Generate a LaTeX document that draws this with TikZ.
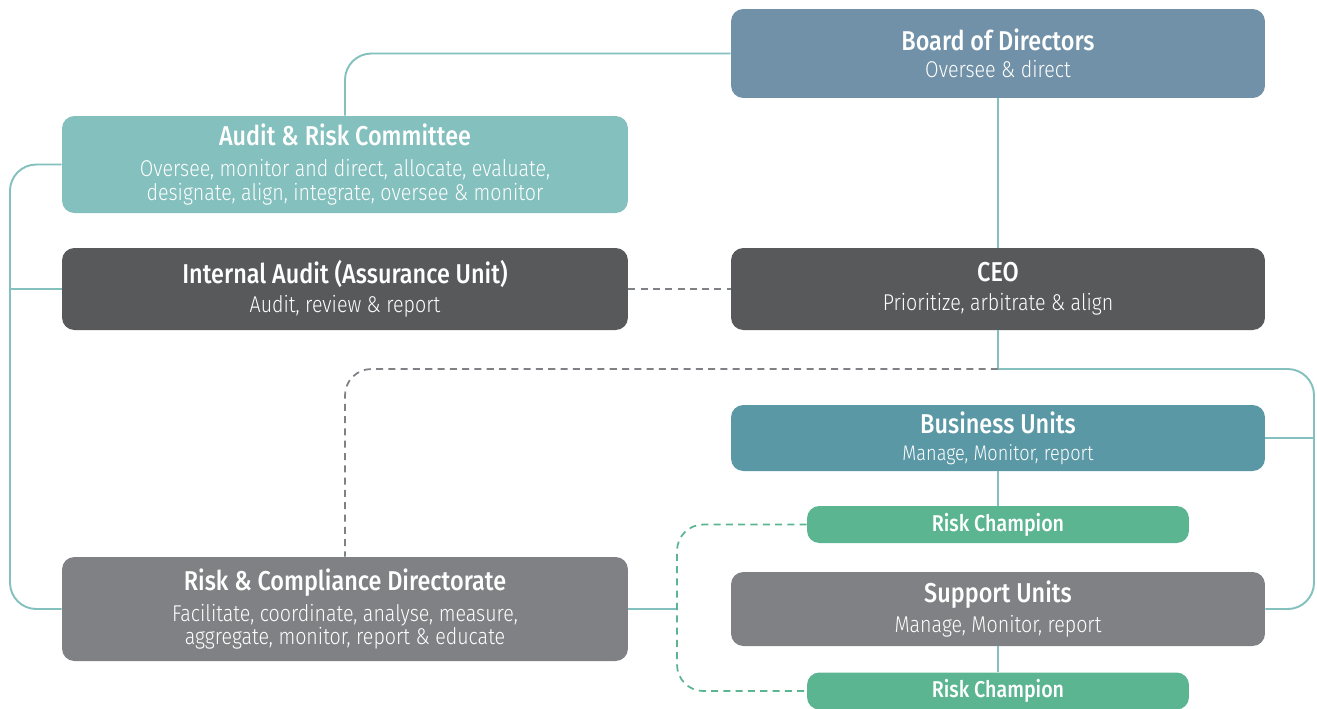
\documentclass[tikz,border=0pt]{standalone}
\usepackage{fontspec}
\setmainfont{Fira Sans Light}[BoldFont={Fira Sans Medium}, FakeStretch=0.86]
\definecolor{boardblue}{HTML}{7091A7}
\definecolor{lightteal}{HTML}{83C0BE}
\definecolor{darkgray}{HTML}{58595B}
\definecolor{unitteal}{HTML}{5A98A5}
\definecolor{champgreen}{HTML}{5BB591}
\definecolor{midgray}{HTML}{808184}
\newcommand{\boxhead}[1]{{\fontsize{15.5}{18}\selectfont\bfseries #1}}
\tikzset{
  box/.style={rounded corners=7pt, text=white, align=center, inner sep=0pt,
    font=\fontsize{13}{13.6}\selectfont},
  link/.style={draw=lightteal, line width=1.1pt},
  greylink/.style={draw=midgray, line width=1pt, dash pattern=on 4pt off 3pt},
  champlink/.style={draw=champgreen, line width=1pt, dash pattern=on 4pt off 3pt}
}
\begin{document}
\begin{tikzpicture}[x=0.02cm, y=-0.02cm]
  \useasboundingbox (0,0) rectangle (1317,708);
  \node[box, fill=boardblue, minimum width=10.68cm, minimum height=1.78cm] (board) at (998,53.5)
    {\boxhead{Board of Directors}\\[2pt]Oversee \& direct};
  \node[box, fill=lightteal, minimum width=11.32cm, minimum height=1.94cm] (arc) at (345,164.5)
    {\boxhead{Audit \& Risk Committee}\\[4pt]Oversee, monitor and direct, allocate, evaluate,\\designate, align, integrate, oversee \& monitor};
  \node[box, fill=darkgray, minimum width=11.32cm, minimum height=1.64cm] (ia) at (345,289)
    {\boxhead{Internal Audit (Assurance Unit)}\\[3pt]Audit, review \& report};
  \node[box, fill=darkgray, minimum width=10.68cm, minimum height=1.64cm] (ceo) at (998,289)
    {\boxhead{CEO}\\[3pt]Prioritize, arbitrate \& align};
  \node[box, fill=unitteal, minimum width=10.68cm, minimum height=1.32cm] (bu) at (998,438)
    {\boxhead{Business Units}\\[2pt]{\fontsize{12}{12}\selectfont Manage, Monitor, report}};
  \node[box, fill=champgreen, minimum width=7.64cm, minimum height=0.74cm,
    font=\fontsize{13}{14}\selectfont\bfseries] (rc1) at (998,524.5) {Risk Champion};
  \node[box, fill=midgray, minimum width=10.68cm, minimum height=1.48cm] (su) at (998,609)
    {\boxhead{Support Units}\\[3pt]Manage, Monitor, report};
  \node[box, fill=champgreen, minimum width=7.64cm, minimum height=0.74cm,
    font=\fontsize{13}{14}\selectfont\bfseries] (rc2) at (998,691) {Risk Champion};
  \node[box, fill=midgray, minimum width=11.32cm, minimum height=2.08cm] (rcd) at (345,609)
    {\boxhead{Risk \& Compliance Directorate}\\[4pt]Facilitate, coordinate, analyse, measure,\\aggregate, monitor, report \& educate};
  \coordinate (hub) at (998,369);
  \coordinate (rbus) at (1314,438);
  \coordinate (lft) at (10,289);
  \coordinate (gjoin) at (677,609);
  \draw[link, rounded corners=15pt] (board.west) -| (arc.north);
  \draw[link] (board.south) -- (ceo.north);
  \draw[link, rounded corners=15pt] (arc.west) -| (lft) |- (rcd.west);
  \draw[link] (ia.west) -- (lft);
  \draw[greylink] (ia.east) -- (ceo.west);
  \draw[link] (ceo.south) -- (hub);
  \draw[link, rounded corners=15pt] (hub) -| (rbus) |- (su.east);
  \draw[link] (bu.east) -- (rbus);
  \draw[greylink, rounded corners=15pt] (hub) -| (rcd.north);
  \draw[link] (bu.south) -- (rc1.north);
  \draw[link] (su.south) -- (rc2.north);
  \draw[link] (rcd.east) -- (gjoin);
  \draw[champlink, rounded corners=15pt] (rc1.west) -| (gjoin) |- (rc2.west);
\end{tikzpicture}
\end{document}
